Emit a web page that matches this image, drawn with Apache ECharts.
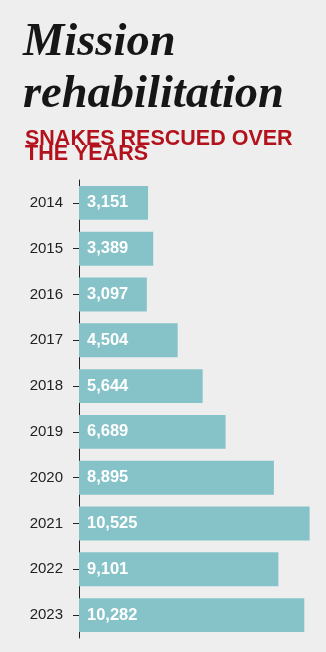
<!DOCTYPE html>
<html>
<head>
<meta charset="utf-8">
<style>
  html, body { margin: 0; padding: 0; background: #eeeeee; }
  #chart { width: 326px; height: 652px; }
</style>
<script src="https://cdn.jsdelivr.net/npm/echarts@6/dist/echarts.min.js"></script>
</head>
<body>
<div id="chart"></div>
<script>
// Snakes rescued per year
const years = ['2014', '2015', '2016', '2017', '2018', '2019', '2020', '2021', '2022', '2023'];
const rescued = [3151, 3389, 3097, 4504, 5644, 6689, 8895, 10525, 9101, 10282];

const chart = echarts.init(document.getElementById('chart'), null, { renderer: 'canvas' });

chart.setOption({
  backgroundColor: '#eeeeee',
  animation: false,
  title: [
    {
      text: 'Mission\nrehabilitation',
      left: 18,
      top: 12,
      textStyle: {
        fontFamily: '"Liberation Serif", serif',
        fontStyle: 'italic',
        fontWeight: 'bold',
        fontSize: 46.5,
        lineHeight: 52,
        color: '#161616'
      }
    },
    {
      text: 'SNAKES RESCUED OVER\nTHE YEARS',
      left: 20,
      top: 127,
      textStyle: {
        fontFamily: '"Liberation Sans", Arial, sans-serif',
        fontWeight: 'bold',
        fontSize: 21.5,
        lineHeight: 15,
        color: '#b3121c'
      }
    }
  ],
  grid: { left: 79, right: 6, top: 180, bottom: 14, containLabel: false },
  xAxis: {
    type: 'value',
    min: 0,
    max: 11000,
    show: false
  },
  yAxis: {
    type: 'category',
    data: years,
    inverse: true,
    axisLine: { show: true, lineStyle: { color: '#222', width: 1 } },
    axisTick: { show: true, alignWithLabel: true, length: 6, lineStyle: { color: '#222' } },
    axisLabel: {
      margin: 16,
      fontFamily: '"Liberation Sans", Arial, sans-serif',
      fontSize: 15,
      color: '#222'
    }
  },
  series: [{
    type: 'bar',
    data: rescued,
    barCategoryGap: '26%',
    itemStyle: { color: '#86c3c9' },
    label: {
      show: true,
      position: 'insideLeft',
      distance: 8,
      formatter: p => p.value.toLocaleString('en-US'),
      fontFamily: '"Liberation Sans", Arial, sans-serif',
      fontWeight: 'bold',
      fontSize: 16.5,
      color: '#ffffff'
    }
  }]
});
</script>
</body>
</html>
